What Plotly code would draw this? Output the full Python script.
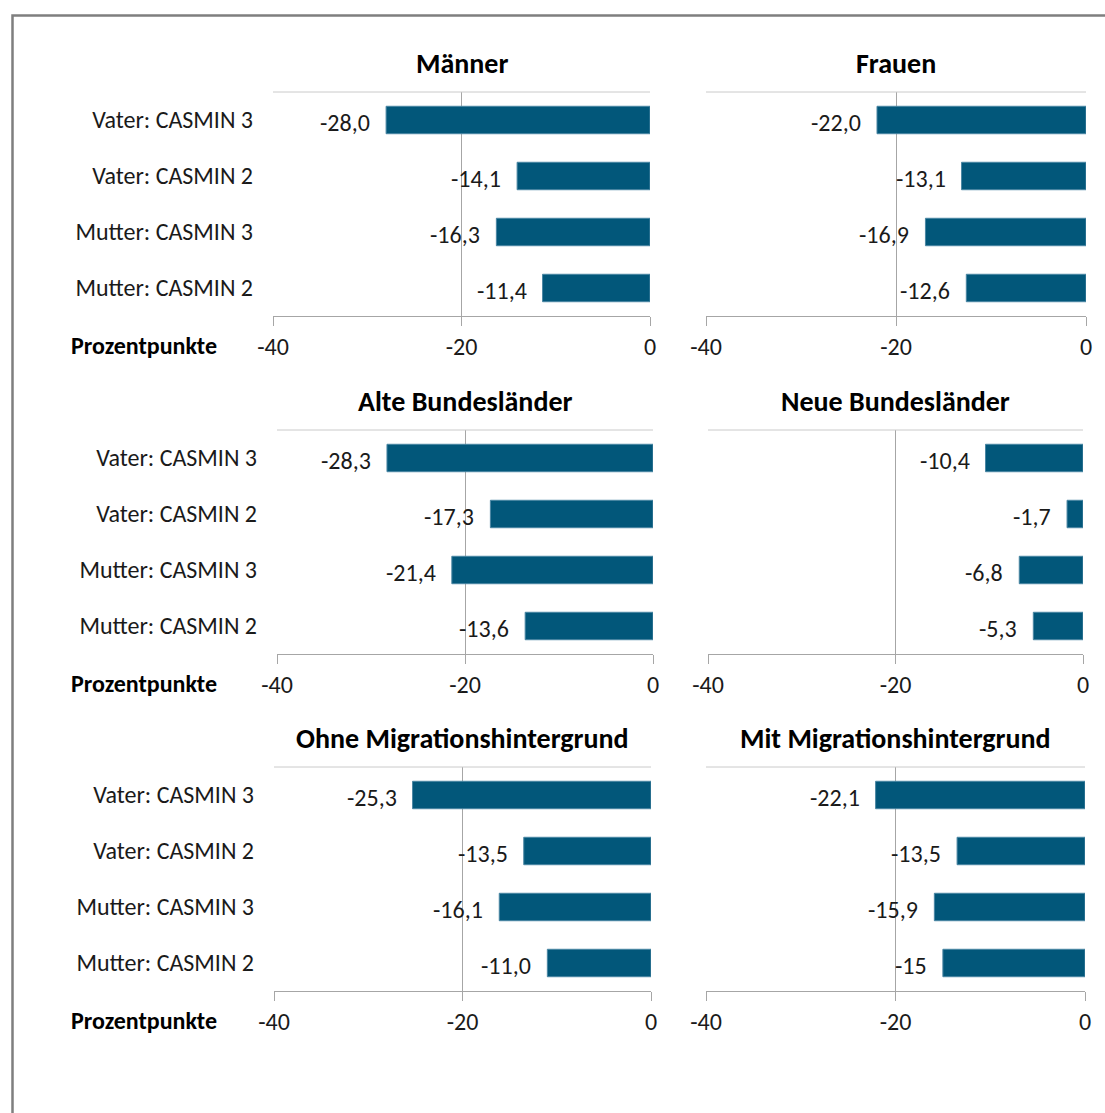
import plotly.graph_objects as go

# ---------------- data ----------------
panel_titles = ["Männer", "Frauen", "Alte Bundesländer", "Neue Bundesländer",
                "Ohne Migrationshintergrund", "Mit Migrationshintergrund"]
categories = ["Vater: CASMIN 3", "Vater: CASMIN 2", "Mutter: CASMIN 3", "Mutter: CASMIN 2"]

maenner = [-28.0, -14.1, -16.3, -11.4]
frauen = [-22.0, -13.1, -16.9, -12.6]
alte_bl = [-28.3, -17.3, -21.4, -13.6]
neue_bl = [-10.4, -1.7, -6.8, -5.3]
ohne_mig = [-25.3, -13.5, -16.1, -11.0]
mit_mig = [-22.1, -13.5, -15.9, -15.0]

maenner_labels = ["-28,0", "-14,1", "-16,3", "-11,4"]
frauen_labels = ["-22,0", "-13,1", "-16,9", "-12,6"]
alte_bl_labels = ["-28,3", "-17,3", "-21,4", "-13,6"]
neue_bl_labels = ["-10,4", "-1,7", "-6,8", "-5,3"]
ohne_mig_labels = ["-25,3", "-13,5", "-16,1", "-11,0"]
mit_mig_labels = ["-22,1", "-13,5", "-15,9", "-15"]

x_tickvals = [-40, -20, 0]
x_ticktext = ["-40", "-20", "0"]
axis_title = "Prozentpunkte"

series = [maenner, frauen, alte_bl, neue_bl, ohne_mig, mit_mig]
labels = [maenner_labels, frauen_labels, alte_bl_labels, neue_bl_labels,
          ohne_mig_labels, mit_mig_labels]

# ---------------- layout geometry (pixels) ----------------
W, H = 1105, 1113
boxes = [(273, 650, 92, 316), (706, 1086, 92, 316),
         (277, 653, 430, 654), (708, 1083, 430, 654),
         (274, 651, 767, 991), (706, 1085, 767, 991)]

FONT = "Carlito, Calibri, Lato, sans-serif"
BAR = "#02577A"
GRID = "#A6A6A6"
TXT = "#1a1a1a"
FS = 24

def px_x(p):
    return p / W

def px_y(p):
    return 1 - p / H

fig = go.Figure()
layout = dict(
    width=W, height=H, autosize=False,
    margin=dict(l=0, r=0, t=0, b=0, pad=0, autoexpand=False),
    paper_bgcolor="white", plot_bgcolor="white",
    showlegend=False,
    font=dict(family=FONT, size=FS, color=TXT),
    shapes=[], annotations=[],
    bargap=0.51,
)

n = len(categories)
for i, (vals, labs, title, box) in enumerate(zip(series, labels, panel_titles, boxes)):
    k = i + 1
    xa = "x" if k == 1 else f"x{k}"
    ya = "y" if k == 1 else f"y{k}"
    x0, x1, y0, y1 = box

    fig.add_trace(go.Bar(
        x=vals, y=categories, orientation="h",
        marker=dict(color=BAR, line=dict(color="#4A86A3", width=1)),
        xaxis=xa, yaxis=ya, hoverinfo="skip",
    ))

    layout[f"xaxis{'' if k == 1 else k}"] = dict(
        domain=[px_x(x0), px_x(x1)], anchor=ya, automargin=False,
        range=[-40, 0], tickmode="array", tickvals=x_tickvals, ticktext=x_ticktext,
        showgrid=True, gridcolor=GRID, gridwidth=1,
        showline=True, linecolor=GRID, linewidth=1,
        ticks="outside", ticklen=9, tickcolor=GRID, tickwidth=1,
        zeroline=False, ticklabelstandoff=0,
        tickfont=dict(family=FONT, size=FS, color=TXT),
        fixedrange=True,
    )
    layout[f"yaxis{'' if k == 1 else k}"] = dict(
        domain=[px_y(y1), px_y(y0)], anchor=xa, automargin=False,
        type="category", categoryorder="array", categoryarray=categories,
        range=[n - 0.5, -0.5],
        showgrid=False, showline=False, ticks="", zeroline=False,
        showticklabels=(k % 2 == 1),
        ticklabelstandoff=19,
        tickfont=dict(family=FONT, size=FS, color=TXT),
        fixedrange=True,
    )
    # right-hand category axis line with boundary ticks
    layout[f"yaxis{k + 6}"] = dict(
        overlaying=ya, anchor=xa, side="right", automargin=False,
        range=[n - 0.5, -0.5], tickmode="array",
        tickvals=[j - 0.5 for j in range(n + 1)],
        showticklabels=False, showgrid=False, zeroline=False,
        showline=True, linecolor=GRID, linewidth=1,
        ticks="outside", ticklen=5, tickcolor=GRID,
        fixedrange=True,
    )
    # light top border of plot area
    layout["shapes"].append(dict(
        type="line", xref=f"{xa} domain", yref=f"{ya} domain",
        x0=0, x1=1, y0=1, y1=1, line=dict(color="#CACACA", width=1),
    ))
    # panel title
    layout["annotations"].append(dict(
        text=f"<b>{title}</b>", xref=f"{xa} domain", yref=f"{ya} domain",
        x=0.5, y=1, yshift=29, xanchor="center", yanchor="middle",
        showarrow=False, font=dict(family=FONT, size=28, color="black"),
    ))
    # data labels
    for v, lab, cat in zip(vals, labs, categories):
        layout["annotations"].append(dict(
            text=lab, x=v, y=cat, xref=xa, yref=ya,
            xanchor="right", yanchor="middle", xshift=-14, yshift=-2,
            showarrow=False, font=dict(family=FONT, size=FS, color=TXT),
        ))
    # axis title on the left columns
    if k % 2 == 1:
        layout["annotations"].append(dict(
            text=f"<b>{axis_title}</b>", xref="paper", yref=f"{ya} domain",
            x=px_x(69), y=0, yshift=-29, xanchor="left", yanchor="middle",
            showarrow=False, font=dict(family=FONT, size=FS, color="black"),
        ))

# outer frame (extends beyond right/bottom edge)
layout["shapes"].append(dict(
    type="rect", xref="paper", yref="paper",
    x0=px_x(12.5), x1=1.05, y0=-0.05, y1=px_y(15.5),
    line=dict(color="#7F7F7F", width=2.5), fillcolor="rgba(0,0,0,0)", layer="below",
))

fig.update_layout(**layout)
fig.write_html(
    "out.html",
    config={"displayModeBar": False, "responsive": False},
    post_script="document.body.style.margin='0px';document.body.style.overflow='hidden';",
)
